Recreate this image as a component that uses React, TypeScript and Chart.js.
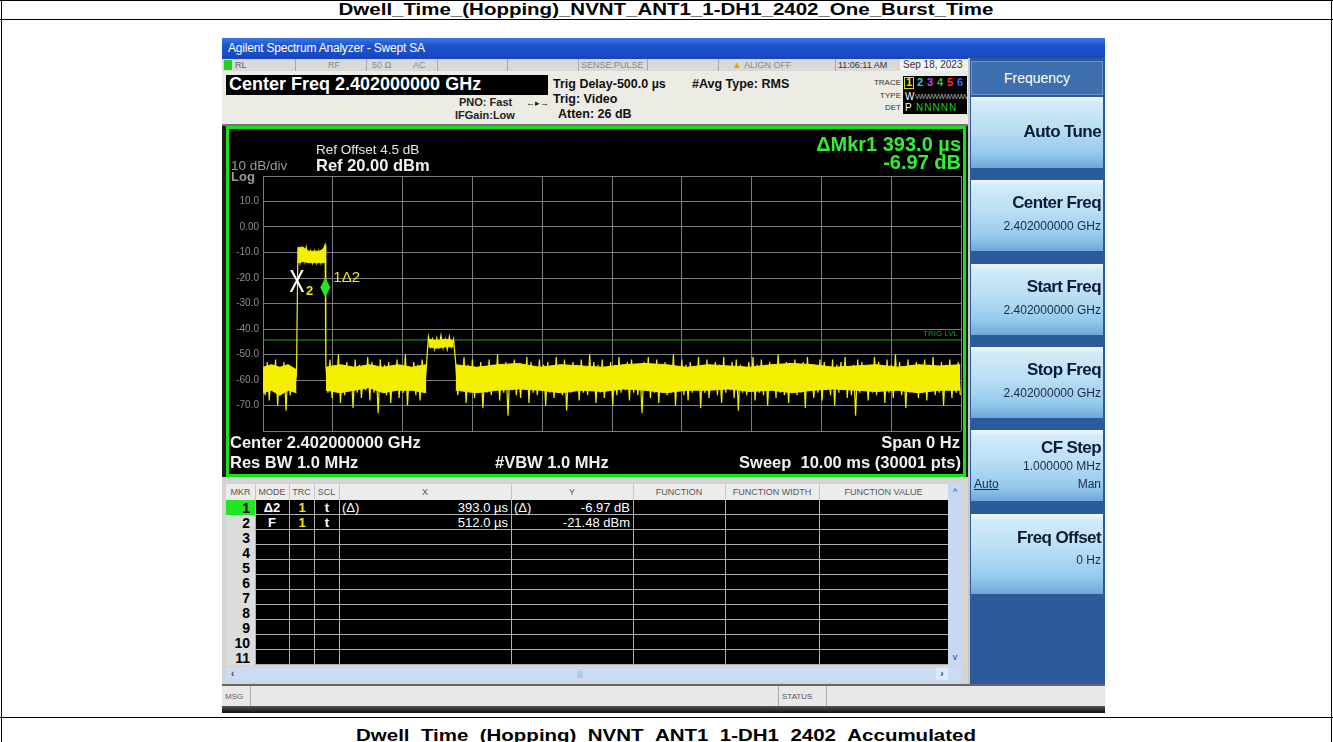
import React, { useEffect, useRef } from "react";
import { Chart, registerables } from "chart.js";

Chart.register(...registerables);

// ---------------- data ----------------
const PAGE_TITLE = "Dwell_Time_(Hopping)_NVNT_ANT1_1-DH1_2402_One_Burst_Time";
const NEXT_TITLE = "Dwell_Time_(Hopping)_NVNT_ANT1_1-DH1_2402_Accumulated";

// sweep: 10 ms, trace samples every 0.03 ms
const SAMPLE_STEP_MS = 0.03;
const X_MIN_MS = 0;
const X_MAX_MS = 10;
const Y_MIN_DBM = -80;
const Y_MAX_DBM = 20;
const Y_STEP_DB = 10;
const X_STEP_MS = 1;

const NOISE_A_START = 0;
const NOISE_A_END = 0.48;
const noiseA = [-55, -66, -53, -68, -54, -64, -52, -70, -55, -65, -53, -72, -54, -66, -56, -63, -58];

const BURST1_START = 0.5;
const BURST1_END = 0.89;
const burst1 = [-8, -14, -8.5, -13.5, -8, -13, -9.5, -14, -9.5, -14, -9.5, -14, -9, -7];

const NOISE_B_START = 0.9;
const NOISE_B_END = 2.34;
const noiseB = [
  -54, -65, -52, -67, -55, -64, -50, -69, -54, -66, -53, -63, -55, -71, -52, -65, -54, -67, -56, -64,
  -51, -68, -53, -65, -55, -73, -52, -64, -54, -66, -53, -69, -56, -63, -52, -67, -54, -65, -50, -70,
  -55, -64, -53, -66, -54, -68, -52, -65, -55,
];

const BURST2_START = 2.37;
const BURST2_END = 2.73;
const burst2 = [-43, -47, -44, -48, -43.5, -47, -42.5, -47.5, -44, -48, -43, -47, -44];

const NOISE_C_START = 2.76;
const NOISE_C_END = 9.99;
const noiseC = [
  -53, -66, -55, -64, -51, -69, -54, -65, -52, -67, -56, -63, -53, -71, -55, -65, -52, -66, -54, -64,
  -50, -68, -54, -65, -53, -74, -55, -64, -52, -66, -54, -67, -56, -63, -51, -69, -53, -65, -55, -66,
  -52, -64, -54, -70, -53, -65, -55, -67, -51, -64, -54, -66, -52, -72, -56, -65, -53, -64, -54, -68,
  -52, -65, -55, -66, -50, -64, -53, -69, -54, -65, -52, -67, -55, -63, -53, -70, -54, -66, -51, -65,
  -55, -64, -53, -68, -52, -65, -54, -66, -56, -73, -53, -64, -51, -67, -54, -65, -52, -69, -55, -64,
  -53, -66, -54, -65, -50, -70, -55, -64, -52, -66, -54, -68, -53, -65, -55, -63, -51, -71, -54, -65,
  -52, -67, -56, -64, -53, -66, -54, -69, -51, -65, -55, -64, -53, -67, -52, -72, -54, -65, -56, -66,
  -53, -64, -51, -68, -54, -65, -52, -66, -55, -70, -53, -64, -54, -67, -50, -65, -55, -66, -53, -69,
  -54, -64, -52, -66, -55, -65, -53, -71, -51, -64, -54, -67, -56, -65, -52, -68, -53, -64, -55, -66,
  -52, -70, -54, -65, -53, -64, -51, -67, -55, -66, -54, -74, -52, -65, -53, -64, -56, -68, -54, -65,
  -51, -66, -53, -64, -55, -69, -52, -65, -54, -67, -50, -64, -53, -66, -55, -71, -52, -65, -54, -64,
  -53, -67, -55, -65, -52, -68, -54, -64, -51, -66, -56, -65, -53, -70, -54, -64, -52, -67, -55, -65,
  -53, -66,
];

// dense (solid) core of the displayed trace, upper and lower edge per section
const coreTopA = [-55, -54, -55, -54, -56];
const coreBottomA = [-65, -64, -66, -64, -65];
const coreTopBurst1 = [-8, -8, -9.5, -9.5, -9.5, -8];
const coreBottomBurst1 = [-14, -13.5, -14, -14, -14, -14];
const coreTopB = [-55, -54, -55, -54, -55, -54, -55, -54];
const coreBottomB = [-64, -65, -64, -63, -65, -64, -64, -65];
const coreTopBurst2 = [-44, -44.5, -44, -44.5];
const coreBottomBurst2 = [-47, -47.5, -47, -47];
const coreTopC = [
  -54, -55, -54, -53.5, -55, -54, -54.5, -55, -54, -53.5, -54, -55, -54, -54.5, -55, -54, -53.5, -54, -55, -54.5,
  -54, -55, -54, -54.5, -54,
];
const coreBottomC = [
  -64, -65, -64, -63.5, -64, -65, -64, -64.5, -63.5, -64, -65, -64, -64, -63.5, -64.5, -64, -65, -64, -63.5, -64,
  -64.5, -64, -65, -64, -64,
];

const TRIG_LEVEL_DBM = -44.3;

// markers: [marker 1 (delta), marker 2 (fixed)]
const markerLabels = ["1\u03942", "2"];
const markerTimesMs = [0.893, 0.5];
const markerLevelsDbm = [-28.45, -21.48];

// marker table
const tableNumbers = ["1", "2", "3", "4", "5", "6", "7", "8", "9", "10", "11"];
const tableMode = ["\u03942", "F"];
const tableTrace = ["1", "1"];
const tableScale = ["t", "t"];
const tableXRef = ["(\u0394)", ""];
const tableX = ["393.0 \u00b5s", "512.0 \u00b5s"];
const tableYRef = ["(\u0394)", ""];
const tableY = ["-6.97 dB", "-21.48 dBm"];
const tableHeaders = ["MKR", "MODE", "TRC", "SCL", "X", "Y", "FUNCTION", "FUNCTION WIDTH", "FUNCTION VALUE"];

// softkeys
const softkeyTitles = ["Auto Tune", "Center Freq", "Start Freq", "Stop Freq", "CF Step", "Freq Offset"];
const softkeyValues = ["", "2.402000000 GHz", "2.402000000 GHz", "2.402000000 GHz", "1.000000 MHz", "0 Hz"];

// ---------------- layout helpers ----------------
const FONT = "'Liberation Sans', Arial, sans-serif";
const PAGE_W = 1333;

type TP = {
  x: number;
  y: number;
  s?: number;
  b?: boolean;
  c?: string;
  a?: "left" | "right" | "center";
  ls?: number;
  sx?: number;
  u?: boolean;
  children: React.ReactNode;
};

function T({ x, y, s = 12, b = false, c = "#000", a = "left", ls, sx, u, children }: TP) {
  const st: React.CSSProperties = {
    position: "absolute",
    top: y - s * 0.6,
    height: s * 1.2,
    lineHeight: `${s * 1.2}px`,
    fontSize: s,
    fontWeight: b ? 700 : 400,
    color: c,
    whiteSpace: "pre",
    fontFamily: FONT,
    letterSpacing: ls,
    textDecoration: u ? "underline" : undefined,
  };
  if (a === "left") st.left = x;
  else if (a === "right") {
    st.right = PAGE_W - x;
    st.textAlign = "right";
  } else {
    st.left = x - 500;
    st.width = 1000;
    st.textAlign = "center";
  }
  if (sx) {
    st.transform = `scaleX(${sx})`;
    st.transformOrigin = a === "right" ? "right center" : a === "center" ? "center center" : "left center";
  }
  return <div style={st}>{children}</div>;
}

function R({ x, y, w, h, bg, st }: { x: number; y: number; w: number; h: number; bg?: string; st?: React.CSSProperties }) {
  return <div style={{ position: "absolute", left: x, top: y, width: w, height: h, background: bg, boxSizing: "border-box", ...st }} />;
}

// ---------------- chart ----------------
function segment(start: number, values: number[]) {
  return values.map((v, i) => ({ x: Math.round((start + i * SAMPLE_STEP_MS) * 10000) / 10000, y: v }));
}

function spread(start: number, end: number, values: number[]) {
  const n = values.length - 1;
  return values.map((v, i) => ({ x: start + ((end - start) * i) / n, y: v }));
}

const TRACE_YELLOW = "#f4ef00";

function coreDatasets(start: number, end: number, top: number[], bottom: number[]) {
  return [
    {
      data: spread(start, end, top),
      borderColor: TRACE_YELLOW,
      borderWidth: 1,
      backgroundColor: TRACE_YELLOW,
      pointRadius: 0,
      fill: "+1",
    },
    {
      data: spread(start, end, bottom),
      borderColor: TRACE_YELLOW,
      borderWidth: 1,
      pointRadius: 0,
      fill: false,
    },
  ];
}

const markerPlugin = {
  id: "saMarkers",
  afterDatasetsDraw(chart: any) {
    const { ctx, scales } = chart;
    const xs = scales.x;
    const ys = scales.y;
    ctx.save();
    // trigger level label
    const ty = ys.getPixelForValue(TRIG_LEVEL_DBM);
    ctx.font = `8px ${FONT}`;
    ctx.fillStyle = "#1c9a1c";
    ctx.textAlign = "right";
    ctx.textBaseline = "bottom";
    ctx.fillText("TRIG LVL", chart.chartArea.right - 3, ty - 2);

    // marker 1 (delta) diamond
    const px = xs.getPixelForValue(markerTimesMs[0]);
    const py = ys.getPixelForValue(markerLevelsDbm[0]) - 2;
    ctx.fillStyle = "#22e622";
    ctx.beginPath();
    ctx.moveTo(px, py);
    ctx.lineTo(px + 5, py - 10);
    ctx.lineTo(px, py - 20);
    ctx.lineTo(px - 5, py - 10);
    ctx.closePath();
    ctx.fill();
    ctx.fillStyle = "#f2e600";
    ctx.font = `15px ${FONT}`;
    ctx.textAlign = "left";
    ctx.textBaseline = "middle";
    ctx.fillText(markerLabels[0], px + 8, py - 20);

    // marker 2 'X'
    const qx = xs.getPixelForValue(markerTimesMs[1]);
    const qy = ys.getPixelForValue(markerLevelsDbm[1]);
    ctx.save();
    ctx.translate(qx - 1, qy + 1);
    ctx.scale(0.72, 1);
    ctx.fillStyle = "#ffffff";
    ctx.font = `32px ${FONT}`;
    ctx.textAlign = "center";
    ctx.textBaseline = "middle";
    ctx.fillText("X", 0, 0);
    ctx.restore();
    ctx.fillStyle = "#f2e600";
    ctx.font = `bold 13px ${FONT}`;
    ctx.textAlign = "left";
    ctx.textBaseline = "middle";
    ctx.fillText(markerLabels[1], qx + 8, qy + 10);
    ctx.restore();
  },
};

function TraceChart() {
  const ref = useRef<HTMLCanvasElement>(null);
  useEffect(() => {
    const trace = [
      ...segment(NOISE_A_START, noiseA),
      ...segment(BURST1_START, burst1),
      ...segment(NOISE_B_START, noiseB),
      ...segment(BURST2_START, burst2),
      ...segment(NOISE_C_START, noiseC),
    ];
    const chart = new Chart(ref.current as HTMLCanvasElement, {
      type: "line",
      data: {
        datasets: [
          {
            label: "Trace 1",
            data: trace,
            borderColor: TRACE_YELLOW,
            borderWidth: 1.2,
            pointRadius: 0,
            tension: 0,
            fill: false,
          },
          ...coreDatasets(NOISE_A_START, NOISE_A_END, coreTopA, coreBottomA),
          ...coreDatasets(BURST1_START, BURST1_END, coreTopBurst1, coreBottomBurst1),
          ...coreDatasets(NOISE_B_START, NOISE_B_END, coreTopB, coreBottomB),
          ...coreDatasets(BURST2_START, BURST2_END, coreTopBurst2, coreBottomBurst2),
          ...coreDatasets(NOISE_C_START, NOISE_C_END, coreTopC, coreBottomC),
          {
            label: "TRIG LVL",
            data: [
              { x: X_MIN_MS, y: TRIG_LEVEL_DBM },
              { x: X_MAX_MS, y: TRIG_LEVEL_DBM },
            ],
            borderColor: "#1fa81f",
            borderWidth: 1,
            pointRadius: 0,
            fill: false,
          },
        ] as any,
      },
      options: {
        animation: false,
        responsive: false,
        maintainAspectRatio: false,
        layout: { padding: { top: 47, right: 2, bottom: 43, left: 0 } },
        plugins: { legend: { display: false }, tooltip: { enabled: false } },
        scales: {
          x: {
            type: "linear",
            min: X_MIN_MS,
            max: X_MAX_MS,
            ticks: { stepSize: X_STEP_MS, display: false },
            grid: { color: "#7d7d7d", drawTicks: false, lineWidth: 1 },
            border: { display: false },
            afterFit: (s: any) => {
              s.height = 0;
            },
          },
          y: {
            min: Y_MIN_DBM,
            max: Y_MAX_DBM,
            ticks: {
              stepSize: Y_STEP_DB,
              color: "#8c8c8c",
              padding: 4,
              font: { size: 10, family: FONT },
              callback: (v: any) => {
                const n = Number(v);
                if (n === Y_MAX_DBM || n === Y_MIN_DBM) return "";
                return n === 0 ? "0.00" : n.toFixed(1);
              },
            },
            grid: { color: "#7d7d7d", drawTicks: false, lineWidth: 1 },
            border: { display: false },
            afterFit: (s: any) => {
              s.width = 34;
            },
          },
        },
      } as any,
      plugins: [markerPlugin],
    });
    return () => chart.destroy();
  }, []);
  return (
    <canvas
      ref={ref}
      width={734}
      height={345}
      style={{ position: "absolute", left: 229, top: 129, width: 734, height: 345 }}
    />
  );
}

// ---------------- page ----------------
const COLS = [226, 255, 289, 314, 339, 511, 633, 725, 819, 948];

export default function App() {
  const rows = tableNumbers.map((n, r) => {
    const y0 = 500 + r * 15;
    return (
      <React.Fragment key={n}>
        <R x={226} y={y0} w={29} h={15} bg={r === 0 ? "#22e622" : "#dcdcdc"} />
        <T x={250} y={y0 + 8} s={14} b a="right">{n}</T>
        {r < tableMode.length && (
          <>
            <T x={272} y={y0 + 8} s={13} b c="#fff" a="center">{tableMode[r]}</T>
            <T x={302} y={y0 + 8} s={13} b c="#f2e600" a="center">{tableTrace[r]}</T>
            <T x={327} y={y0 + 8} s={13} b c="#fff" a="center">{tableScale[r]}</T>
            <T x={342} y={y0 + 8} s={13} c="#fff">{tableXRef[r]}</T>
            <T x={508} y={y0 + 8} s={13} c="#fff" a="right">{tableX[r]}</T>
            <T x={514} y={y0 + 8} s={13} c="#fff">{tableYRef[r]}</T>
            <T x={630} y={y0 + 8} s={13} c="#fff" a="right">{tableY[r]}</T>
          </>
        )}
      </React.Fragment>
    );
  });

  return (
    <div
      style={{
        position: "fixed",
        left: 0,
        top: 0,
        width: 1333,
        height: 742,
        overflow: "hidden",
        background: "#fff",
        fontFamily: FONT,
      }}
    >
      {/* document table */}
      <R x={0} y={0} w={1333} h={1} bg="#000" />
      <R x={0} y={19} w={1333} h={1} bg="#000" />
      <R x={0} y={717} w={1333} h={1} bg="#000" />
      <R x={1} y={0} w={1} h={742} bg="#000" />
      <R x={1331} y={0} w={1} h={742} bg="#000" />
      <T x={666} y={9.5} s={16} b a="center" sx={1.28}>{PAGE_TITLE}</T>
      <T x={666} y={736} s={16} b a="center" sx={1.28}>{NEXT_TITLE}</T>

      {/* screenshot frame */}
      <R x={222} y={38} w={883} h={675} bg="#1c1c1c" />
      <R x={222} y={38} w={883} h={21} bg="linear-gradient(#3c78e4 0%, #1d55d0 35%, #1646be 100%)" />
      <T x={228} y={48} s={12} c="#fff" ls={-0.2}>Agilent Spectrum Analyzer - Swept SA</T>

      {/* status row */}
      <R x={222} y={59} w={746} h={12} bg="#d9d9d9" />
      <R x={224} y={60} w={8} h={10} bg="#22d022" />
      <T x={235} y={65} s={9} c="#606060">RL</T>
      <R x={295} y={59} w={1} h={12} bg="#a8a8a8" />
      <T x={328} y={65} s={9} c="#888">RF</T>
      <R x={366} y={59} w={1} h={12} bg="#a8a8a8" />
      <T x={372} y={65} s={9} c="#888">50 Ω</T>
      <T x={413} y={65} s={9} c="#888">AC</T>
      <R x={437} y={59} w={1} h={12} bg="#a8a8a8" />
      <R x={507} y={59} w={1} h={12} bg="#a8a8a8" />
      <R x={578} y={59} w={1} h={12} bg="#a8a8a8" />
      <T x={581} y={65} s={9} c="#888">SENSE:PULSE</T>
      <R x={647} y={59} w={1} h={12} bg="#a8a8a8" />
      <R x={718} y={59} w={1} h={12} bg="#a8a8a8" />
      <T x={732} y={65} s={10} c="#d8b000">▲</T>
      <T x={744} y={65} s={9} c="#888">ALIGN OFF</T>
      <R x={835} y={59} w={1} h={12} bg="#a8a8a8" />
      <T x={838} y={65} s={9} c="#333">11:06:11 AM</T>
      <R x={900} y={59} w={68} h={12} bg="#f4f4f4" />
      <T x={903} y={65} s={10} c="#333">Sep 18, 2023</T>

      {/* info area */}
      <R x={222} y={71} w={746} h={55} bg="#ecebe4" />
      <R x={226} y={75} w={322} h={20} bg="#000" />
      <T x={229} y={85} s={18} b c="#fff">Center Freq 2.402000000 GHz</T>
      <T x={459} y={103} s={11} b c="#222">PNO: Fast</T>
      <T x={526} y={103} s={9} c="#222">←▸→</T>
      <T x={455} y={116} s={11} b c="#222">IFGain:Low</T>
      <T x={553} y={84} s={12.5} b c="#111">Trig Delay-500.0 µs</T>
      <T x={553} y={99} s={12.5} b c="#111">Trig: Video</T>
      <T x={558} y={114} s={12.5} b c="#111">Atten: 26 dB</T>
      <T x={692} y={84} s={12.5} b c="#111">#Avg Type: RMS</T>
      <T x={901} y={83} s={8} c="#333" a="right">TRACE</T>
      <T x={901} y={96} s={8} c="#333" a="right">TYPE</T>
      <T x={901} y={108} s={8} c="#333" a="right">DET</T>
      <R x={903} y={76} w={64} h={38} bg="#000" />
      <R x={904} y={77} w={10} h={12} st={{ border: "1px solid #e0e000" }} />
      <T x={906} y={83} s={11} b c="#f2e600">1</T>
      <T x={917} y={83} s={11} b c="#30d0d0">2</T>
      <T x={927} y={83} s={11} b c="#c040ff">3</T>
      <T x={937} y={83} s={11} b c="#30c030">4</T>
      <T x={947} y={83} s={11} b c="#ff3030">5</T>
      <T x={957} y={83} s={11} b c="#4060ff">6</T>
      <T x={905} y={97} s={10} c="#fff">W</T>
      <T x={915} y={97} s={8} c="#aaa" ls={-1}>WWWWWWWWW</T>
      <T x={905} y={108} s={10} c="#fff">P</T>
      <T x={916} y={108} s={10} c="#22cc22" ls={1}>NNNNN</T>
      <R x={222} y={124} w={746} h={2} bg="#777" />

      {/* graticule frame */}
      <R x={226} y={126} w={740} h={351} bg="#000" st={{ border: "3px solid #19e019" }} />
      <TraceChart />
      <T x={316} y={150} s={13.5} c="#e8e8e8">Ref Offset 4.5 dB</T>
      <T x={316} y={166} s={16.5} b c="#f0f0f0">Ref 20.00 dBm</T>
      <T x={231} y={166} s={13.5} c="#9a9a9a">10 dB/div</T>
      <T x={231} y={177} s={13} b c="#9a9a9a">Log</T>
      <T x={961} y={144} s={20} b c="#33ee33" a="right">ΔMkr1 393.0 µs</T>
      <T x={961} y={162} s={20} b c="#33ee33" a="right">-6.97 dB</T>
      <T x={230} y={443} s={16.5} b c="#f0f0f0">Center 2.402000000 GHz</T>
      <T x={230} y={463} s={16.5} b c="#f0f0f0">Res BW 1.0 MHz</T>
      <T x={495} y={463} s={16.5} b c="#f0f0f0">#VBW 1.0 MHz</T>
      <T x={960} y={443} s={16.5} b c="#f0f0f0" a="right">Span 0 Hz</T>
      <T x={961} y={463} s={16.5} b c="#f0f0f0" a="right">Sweep  10.00 ms (30001 pts)</T>

      {/* marker table */}
      <R x={222} y={477} w={746} h={208} bg="#d4d4d4" />
      <R x={226} y={484} w={722} h={16} bg="#ececec" />
      {tableHeaders.map((h, i) => (
        <T key={h} x={(COLS[i] + COLS[i + 1]) / 2} y={492} s={9} c="#555" a="center">
          {h}
        </T>
      ))}
      {COLS.slice(1, 9).map((cx) => (
        <R key={"h" + cx} x={cx} y={484} w={1} h={16} bg="#c4c4c4" />
      ))}
      <R x={255} y={500} w={693} h={165} bg="#000" />
      {tableNumbers.map((n, r) => (
        <R key={"hl" + n} x={255} y={500 + (r + 1) * 15 - 1} w={693} h={1} bg="#b0b0b0" />
      ))}
      {COLS.slice(1, 9).map((cx) => (
        <R key={"v" + cx} x={cx} y={500} w={1} h={165} bg="#b0b0b0" />
      ))}
      {rows}
      <R x={948} y={484} w={14} h={181} bg="#c6d9f1" />
      <T x={955} y={492} s={9} c="#345" a="center">^</T>
      <T x={955} y={657} s={9} c="#345" a="center">v</T>
      <R x={226} y={667} w={736} h={14} bg="#c9dcf3" />
      <T x={231} y={674} s={10} b c="#345">‹</T>
      <R x={936} y={668} w={12} h={12} bg="#dfe9f7" />
      <T x={942} y={674} s={10} b c="#345" a="center">›</T>
      <T x={580} y={674} s={7} c="#8aa" a="center">|||</T>

      {/* message bar */}
      <R x={222} y={684} w={883} h={2} bg="#666" />
      <R x={222} y={686} w={883} h={20} bg="#e8e8e8" />
      <T x={225} y={697} s={8} c="#666">MSG</T>
      <R x={250} y={686} w={1} h={20} bg="#aaa" />
      <R x={778} y={686} w={1} h={20} bg="#aaa" />
      <T x={782} y={697} s={8} c="#555">STATUS</T>
      <R x={826} y={686} w={1} h={20} bg="#aaa" />
      <R x={222} y={706} w={883} h={7} bg="linear-gradient(#555, #111)" />

      {/* softkey panel */}
      <R x={968} y={58} w={137} h={626} bg="#2b5b9a" />
      <R x={968} y={58} w={2} h={626} bg="#c8c8c8" />
      <R x={971} y={61} w={132} h={34} bg="#3e6fae" st={{ border: "1px solid #6c94c8" }} />
      <T x={1037} y={78} s={14} c="#fff" a="center">Frequency</T>
      {softkeyTitles.map((t, k) => {
        const top = Math.round(97 + 83.3 * k);
        const h = k === 5 ? 80 : 71;
        return (
          <R
            key={t}
            x={971}
            y={top}
            w={132}
            h={h}
            bg="linear-gradient(#f2f9fd 0%, #d2ebf8 8%, #b9def4 45%, #94c9ec 80%, #6fa6d6 100%)"
          />
        );
      })}
      <T x={1101} y={132} s={17} b c="#0c1c36" a="right" ls={-0.6}>{softkeyTitles[0]}</T>
      <T x={1101} y={203} s={17} b c="#0c1c36" a="right" ls={-0.6}>{softkeyTitles[1]}</T>
      <T x={1101} y={226} s={12} c="#1a2a44" a="right">{softkeyValues[1]}</T>
      <T x={1101} y={287} s={17} b c="#0c1c36" a="right" ls={-0.6}>{softkeyTitles[2]}</T>
      <T x={1101} y={310} s={12} c="#1a2a44" a="right">{softkeyValues[2]}</T>
      <T x={1101} y={370} s={17} b c="#0c1c36" a="right" ls={-0.6}>{softkeyTitles[3]}</T>
      <T x={1101} y={393} s={12} c="#1a2a44" a="right">{softkeyValues[3]}</T>
      <T x={1101} y={448} s={17} b c="#0c1c36" a="right" ls={-0.6}>{softkeyTitles[4]}</T>
      <T x={1101} y={466} s={12} c="#1a2a44" a="right">{softkeyValues[4]}</T>
      <T x={974} y={484} s={12} c="#1a2a44" u>Auto</T>
      <T x={1101} y={484} s={12} c="#1a2a44" a="right">Man</T>
      <T x={1101} y={538} s={17} b c="#0c1c36" a="right" ls={-0.6}>{softkeyTitles[5]}</T>
      <T x={1101} y={560} s={12} c="#1a2a44" a="right">{softkeyValues[5]}</T>
    </div>
  );
}
